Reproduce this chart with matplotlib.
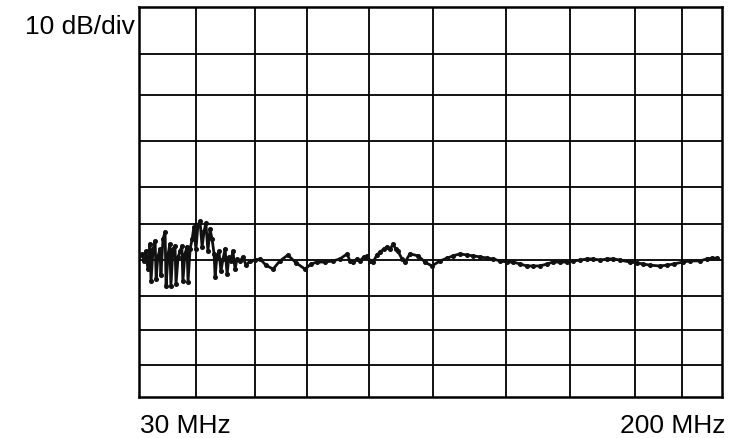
import matplotlib
matplotlib.use("Agg")
import matplotlib.pyplot as plt

plt.rcParams['font.family'] = ['Liberation Sans', 'DejaVu Sans']

# sweep: 30 MHz .. 200 MHz, 10 dB/div
f_start = 30
f_stop = 200
ref_db = 0
bottom_db = -100

# graticule lines as they sit on the scanned plot
grid_mhz = [46.6, 63.8, 79.0, 97.1, 115.7, 137.0, 155.7, 174.6, 188.3]
grid_db = [-12.1, -22.6, -34.4, -46.2, -55.6, -64.9, -74.1, -82.8, -91.8]

# trace (frequency in MHz, level in dB)
freq = [30.0, 30.9, 31.5, 32.0, 32.6, 33.2, 33.5, 34.1, 34.7, 35.0,
        35.5, 36.1, 36.4, 37.0, 37.6, 37.9, 38.5, 39.0, 39.3, 39.9,
        40.5, 40.8, 41.4, 42.0, 42.5, 42.8, 43.4, 44.0, 44.3, 44.9,
        45.5, 46.0, 46.6, 47.2, 47.8, 48.4, 49.0, 49.5, 50.1, 50.7,
        51.3, 51.9, 52.2, 52.7, 53.3, 53.9, 54.5, 55.1, 55.7, 56.2,
        56.8, 57.4, 58.0, 58.6, 59.5, 60.3, 61.2, 62.4,
        63.8, 65.3, 67.0, 69.1, 71.1, 73.4, 75.8, 78.4, 80.2, 81.9,
        84.2, 86.6, 88.6, 90.7, 91.5, 92.4, 93.6, 94.4, 95.6, 96.5,
        97.4, 98.2, 99.4, 100.3, 101.4, 102.3, 103.2, 104.1, 104.9, 105.5,
        106.7, 107.6, 109.0, 111.4, 113.4, 115.4, 117.8, 119.8, 121.6, 123.6,
        125.7, 127.4, 129.5, 131.5, 133.2, 135.3, 137.3, 139.1, 141.1, 143.1,
        144.9, 146.9, 149.0, 150.7, 152.8, 154.8, 156.6, 158.6, 160.7, 162.4,
        164.5, 166.5, 168.3, 170.3, 173.2, 175.2, 177.0, 179.0, 181.9, 184.0,
        185.9, 188.6, 190.7, 193.6, 195.6, 197.1, 198.5]
level = [-63.8, -63.3, -65.1, -62.6, -67.2, -60.8, -70.3, -62.1, -60.0, -69.7,
         -64.1, -62.1, -68.7, -59.5, -57.7, -71.5, -63.3, -60.8, -71.5, -62.1,
         -61.3, -71.0, -64.1, -62.6, -61.3, -70.3, -63.3, -61.5, -70.5, -62.1,
         -59.5, -56.4, -62.1, -55.9, -54.9, -61.5, -57.4, -55.4, -62.6, -56.9,
         -59.5, -63.3, -69.2, -64.1, -62.6, -67.7, -64.6, -62.1, -68.5, -64.1,
         -65.1, -62.6, -67.2, -64.6, -65.1, -64.1, -66.2, -65.1,
         -64.9, -64.6, -66.2, -67.2, -65.1, -63.6, -65.6, -67.2, -65.9, -65.4,
         -65.4, -65.1, -64.6, -63.3, -65.1, -65.4, -64.6, -65.1, -64.1, -63.8,
         -65.1, -65.4, -63.6, -62.8, -62.1, -61.5, -62.1, -60.8, -62.1, -62.6,
         -64.6, -65.4, -63.3, -63.8, -65.4, -66.4, -65.1, -64.4, -63.8, -63.3,
         -63.6, -63.8, -64.1, -64.4, -64.6, -65.1, -65.4, -65.4, -65.9, -66.4,
         -66.4, -66.4, -65.9, -65.4, -65.4, -65.4, -65.1, -64.9, -64.6, -64.6,
         -64.9, -64.6, -64.6, -64.9, -65.4, -65.6, -65.9, -66.2, -66.4, -66.2,
         -65.9, -65.4, -65.1, -65.1, -64.6, -64.4, -64.4]

fig = plt.figure(figsize=(7.37, 4.39), dpi=100)
ax = fig.add_axes([0.1886, 0.0934, 0.7910, 0.8884])
ax.set_xlim(f_start, f_stop)
ax.set_ylim(bottom_db, ref_db)

for g in grid_mhz:
    ax.axvline(g, color='black', lw=1.3, zorder=1)
for g in grid_db:
    ax.axhline(g, color='black', lw=1.3, zorder=1)

ax.plot(freq, level, color='#111111', lw=2.0, marker='o', ms=2.6,
        zorder=3)

ax.set_xticks([])
ax.set_yticks([])
for s in ax.spines.values():
    s.set_linewidth(1.8)
    s.set_color('black')

fig.text(0.183, 0.938, '10 dB/div', ha='right', va='center', fontsize=19)
fig.text(0.190, 0.030, '30 MHz', ha='left', va='center', fontsize=19)
fig.text(0.985, 0.030, '200 MHz', ha='right', va='center', fontsize=19)

fig.savefig('out.png', dpi=100)
